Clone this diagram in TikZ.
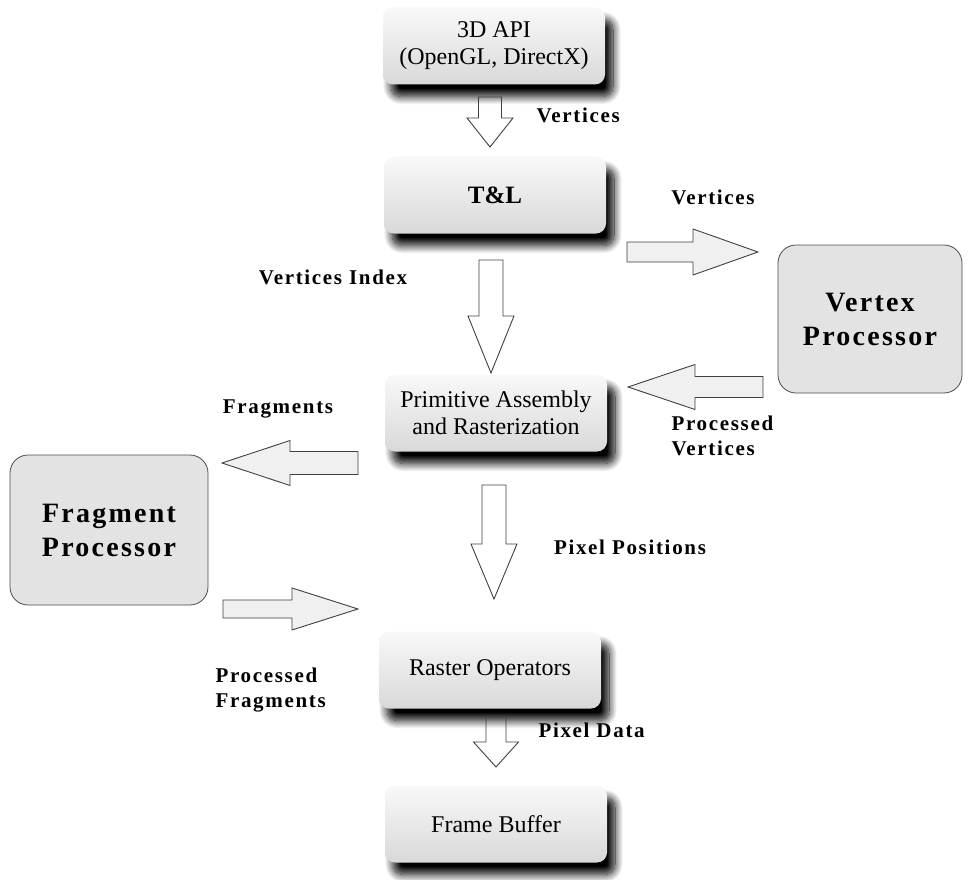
\documentclass[tikz,border=0pt]{standalone}
\usepackage{fontspec}
\setmainfont{Liberation Serif}
\newfontfamily\lblfont[LetterSpace=8]{Liberation Serif}
\usetikzlibrary{calc,shadows.blur}

\tikzset{
  stage/.style={rounded corners=10pt, top color=gray!5, bottom color=gray!30,
    minimum width=222pt, minimum height=77pt, align=center,
    font=\rmfamily\fontsize{24}{27}\selectfont,
    blur shadow={shadow xshift=8pt, shadow yshift=-12pt, shadow blur radius=8pt,
      shadow blur steps=14, shadow opacity=100}},
  proc/.style={draw=black!70, line width=0.8pt, rounded corners=18pt, fill=gray!22,
    align=center, font=\lblfont\bfseries\fontsize{28}{34}\selectfont},
  lbl/.style={font=\lblfont\bfseries\fontsize{21}{25}\selectfont, align=left},
  hollow/.style args={#1/#2/#3}{draw=black!75, line width=0.9pt, to path={
    ($(\tikztostart)!#1!90:(\tikztotarget)$) --
    ($($(\tikztotarget)!#3!(\tikztostart)$)!#1!-90:(\tikztostart)$) --
    ($($(\tikztotarget)!#3!(\tikztostart)$)!#2!-90:(\tikztostart)$) --
    (\tikztotarget) --
    ($($(\tikztotarget)!#3!(\tikztostart)$)!#2!90:(\tikztostart)$) --
    ($($(\tikztotarget)!#3!(\tikztostart)$)!#1!90:(\tikztostart)$) --
    ($(\tikztostart)!#1!-90:(\tikztotarget)$) -- cycle}},
}

\begin{document}
\begin{tikzpicture}[x=1pt,y=1pt]
  \useasboundingbox (0,0) rectangle (970,-880);

  % pipeline stages
  \node[stage] (api) at (494,-46) {3D API\\(OpenGL, DirectX)};
  \node[stage, font=\rmfamily\bfseries\fontsize{25}{27}\selectfont] (tl) at (495,-195) {T\&L};
  \node[stage] (pa) at (496,-413) {Primitive Assembly\\and Rasterization};
  \node[stage] (ro) at (490,-670) {Raster Operators};
  \node[stage] (fb) at (496,-824) {Frame Buffer};

  % programmable processors
  \node[proc, minimum width=184pt, minimum height=148pt] (vp) at (870,-319) {Vertex\\Processor};
  \node[proc, minimum width=198pt, minimum height=150pt] (fp) at (109,-530) {Fragment\\Processor};

  % arrow ends
  \coordinate (a1s) at (490,-97);  \coordinate (a1e) at (490,-147);
  \coordinate (a2s) at (491,-260); \coordinate (a2e) at (491,-373);
  \coordinate (a3s) at (494,-485); \coordinate (a3e) at (494,-599);
  \coordinate (a4s) at (496,-716); \coordinate (a4e) at (496,-767);
  \coordinate (v1s) at (627,-252); \coordinate (v1e) at (758,-252);
  \coordinate (v2s) at (763,-387); \coordinate (v2e) at (628,-387);
  \coordinate (f1s) at (358,-463); \coordinate (f1e) at (222,-463);
  \coordinate (f2s) at (223,-609); \coordinate (f2e) at (358,-609);

  \draw[hollow=11.5pt/23pt/29pt] (a1s) to (a1e);
  \draw[hollow=12pt/23pt/57pt] (a2s) to (a2e);
  \draw[hollow=12pt/23pt/55pt] (a3s) to (a3e);
  \draw[hollow=10pt/22.5pt/25pt] (a4s) to (a4e);
  \draw[hollow=10pt/23pt/65pt, fill=gray!12] (v1s) to (v1e);
  \draw[hollow=10.5pt/22.5pt/67pt, fill=gray!12] (v2s) to (v2e);
  \draw[hollow=11.5pt/22.5pt/68pt, fill=gray!12] (f1s) to (f1e);
  \draw[hollow=9pt/21pt/66pt, fill=gray!12] (f2s) to (f2e);

  % labels
  \node[lbl, anchor=west] (l1) at (533,-115) {Vertices};
  \node[lbl] (l2) at (713,-197) {Vertices};
  \node[lbl] (l3) at (333,-277) {Vertices Index};
  \node[lbl] (l4) at (278,-409) {Fragments};
  \node[lbl, anchor=west] (l5) at (668,-436) {Processed\\Vertices};
  \node[lbl] (l6) at (630,-547) {Pixel Positions};
  \node[lbl, anchor=west] (l7) at (212,-690) {Processed\\Fragments};
  \node[lbl, anchor=west] (l8) at (535,-730) {Pixel Data};
\end{tikzpicture}
\end{document}
